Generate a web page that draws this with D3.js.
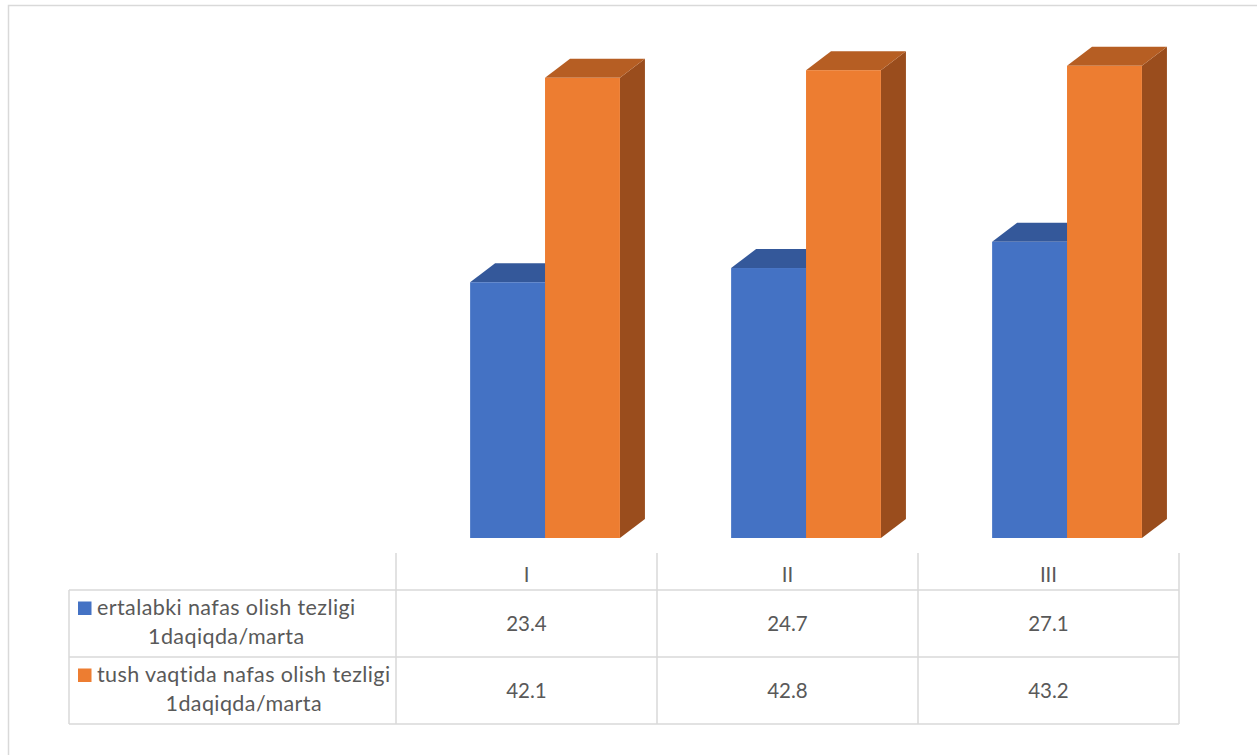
<!DOCTYPE html>
<html>
<head>
<meta charset="utf-8">
<script src="https://cdn.jsdelivr.net/npm/d3@7"></script>
<style>
  body { margin: 0; background: #fff; }
  text { font-family: Lato, 'Open Sans', sans-serif; fill: #595959; }
</style>
</head>
<body>
<div id="chart"></div>
<script>
const categories = ['I', 'II', 'III']
const morning = [23.4, 24.7, 27.1]
const noon = [42.1, 42.8, 43.2]
const seriesLabels = [
  ['ertalabki nafas olish tezligi', '1daqiqda/marta'],
  ['tush vaqtida nafas olish tezligi', '1daqiqda/marta']
]
const seriesColors = [
  { front: '#4472C4', top: '#34589A', side: '#2B4A82' },
  { front: '#ED7D31', top: '#B65E23', side: '#9A4D1D' }
]

const w = 1257
const h = 755
const floorY = 538
const depth = { dx: 25, dy: -19 }
const table = { left: 69, colStart: 396, right: 1179, headTop: 553, rows: [590, 657, 724] }
const fs = 20.5
const legendFs = 21.5

const svg = d3.select('#chart').append('svg')
  .attr('width', w)
  .attr('height', h)

// chart border
svg.append('rect')
  .attr('x', 8.5).attr('y', 5.5)
  .attr('width', 1400).attr('height', 900)
  .attr('fill', 'none')
  .attr('stroke', '#D9D9D9')
  .attr('stroke-width', 1.5)

const x = d3.scaleBand().domain(categories).range([table.colStart, table.right])
const bw = x.bandwidth()
const barW = bw * 0.287
const groupOff = bw * 0.284
const xs = d3.scaleBand().domain([0, 1]).range([groupOff, groupOff + 2 * barW])
const y = d3.scaleLinear().domain([0, 45]).range([floorY, floorY - 45 * 10.93])

const series = [morning, noon]
const g = svg.append('g')

categories.forEach((c, i) => {
  series.forEach((vals, s) => {
    const x0 = x(c) + xs(s)
    const x1 = x0 + xs.bandwidth()
    const yt = y(vals[i])
    const yb = y(0)
    const col = seriesColors[s]
    const bar = g.append('g')
    // side
    bar.append('path')
      .attr('d', d3.line()([[x1, yt], [x1 + depth.dx, yt + depth.dy], [x1 + depth.dx, yb + depth.dy], [x1, yb]]))
      .attr('fill', col.side)
    // top
    bar.append('path')
      .attr('d', d3.line()([[x0, yt], [x0 + depth.dx, yt + depth.dy], [x1 + depth.dx, yt + depth.dy], [x1, yt]]))
      .attr('fill', col.top)
    // front
    bar.append('rect')
      .attr('x', x0).attr('y', yt)
      .attr('width', x1 - x0).attr('height', yb - yt)
      .attr('fill', col.front)
  })
})

// data table
const lines = svg.append('g').attr('stroke', '#D9D9D9').attr('stroke-width', 1.5)
table.rows.forEach(ry => {
  lines.append('line').attr('x1', table.left).attr('x2', table.right).attr('y1', ry).attr('y2', ry)
})
lines.append('line').attr('x1', table.left).attr('x2', table.left)
  .attr('y1', table.rows[0]).attr('y2', table.rows[2])
categories.concat(['end']).forEach((c, i) => {
  const lx = i < categories.length ? x(c) : table.right
  lines.append('line').attr('x1', lx).attr('x2', lx)
    .attr('y1', table.headTop).attr('y2', table.rows[2])
})

// header
svg.selectAll('.head').data(categories).enter().append('text')
  .attr('class', 'head')
  .attr('x', d => x(d) + bw / 2)
  .attr('y', (table.headTop + table.rows[0]) / 2 + 0.36 * fs + 3)
  .attr('text-anchor', 'middle')
  .style('font-size', fs + 'px')
  .text(d => d)

// values
series.forEach((vals, s) => {
  const cy = (table.rows[s] + table.rows[s + 1]) / 2
  svg.selectAll('.val' + s).data(vals).enter().append('text')
    .attr('x', (d, i) => x(categories[i]) + bw / 2)
    .attr('y', cy + 0.36 * fs)
    .attr('text-anchor', 'middle')
    .style('font-size', fs + 'px')
    .text(d => d.toFixed(1))
})

// legend cells
seriesLabels.forEach((lab, s) => {
  const top = table.rows[s]
  const base1 = top + 25
  const tx = 97
  const t1 = svg.append('text')
    .attr('x', tx).attr('y', base1)
    .style('font-size', legendFs + 'px')
    .style('letter-spacing', '0.4px')
    .text(lab[0])
  const tw = t1.node().getComputedTextLength()
  svg.append('text')
    .attr('x', tx + tw / 2).attr('y', base1 + 29)
    .attr('text-anchor', 'middle')
    .style('font-size', legendFs + 'px')
    .style('letter-spacing', '0.4px')
    .text(lab[1])
  svg.append('rect')
    .attr('x', 78).attr('y', base1 - 13.5)
    .attr('width', 13.5).attr('height', 13.5)
    .attr('fill', seriesColors[s].front)
})
</script>
</body>
</html>
